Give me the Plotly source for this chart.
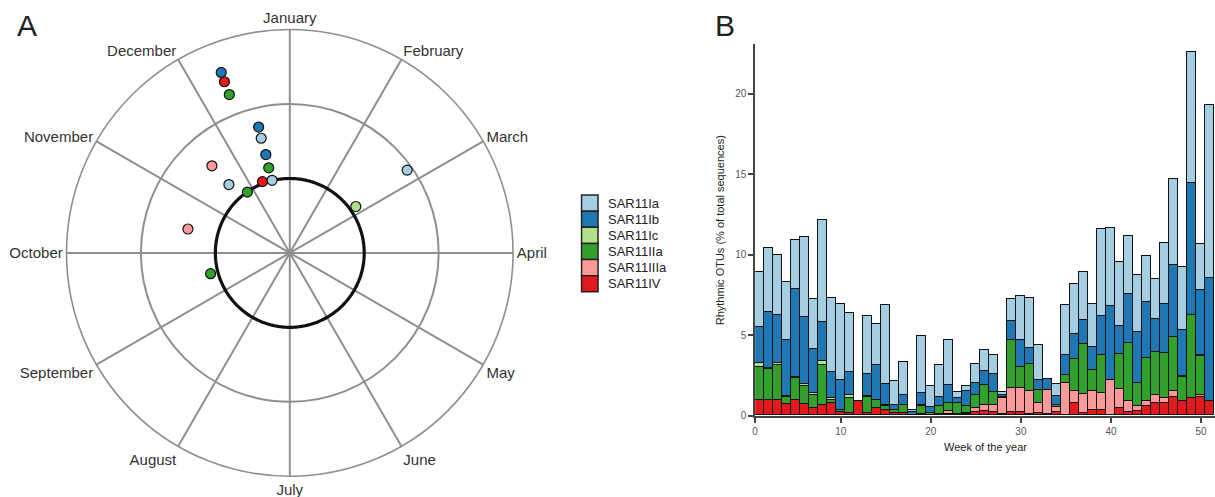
import numpy as np
import plotly.graph_objects as go

# ---------------- data ----------------
months = ["January", "February", "March", "April", "May", "June", "July",
          "August", "September", "October", "November", "December"]
month_angles = [0, 30, 60, 90, 120, 150, 180, 210, 240, 270, 300, 330]

clades = ["SAR11Ia", "SAR11Ib", "SAR11Ic", "SAR11IIa", "SAR11IIIa", "SAR11IV"]
colors = {"SAR11Ia": "#a6cee3", "SAR11Ib": "#1f78b4", "SAR11Ic": "#b2df8a",
          "SAR11IIa": "#33a02c", "SAR11IIIa": "#fb9a99", "SAR11IV": "#e31a1c"}

# Panel A: phase (degrees, Jan = 0, clockwise) and amplitude of rhythmic OTUs
pt_clade = ["SAR11Ib", "SAR11IV", "SAR11IIa", "SAR11Ib", "SAR11Ia", "SAR11Ib",
            "SAR11IIa", "SAR11IV", "SAR11Ia", "SAR11IIIa", "SAR11Ia", "SAR11IIa",
            "SAR11IIIa", "SAR11IIa", "SAR11Ia", "SAR11Ic"]
pt_phase = [339.2, 339.1, 339.1, 346.1, 346.0, 346.3, 346.1, 339.0, 346.3,
            318.2, 318.3, 325.1, 283.2, 255.3, 54.8, 54.9]
pt_amp = [1.297, 1.231, 1.139, 0.871, 0.794, 0.680, 0.589, 0.513, 0.502,
          0.785, 0.615, 0.498, 0.703, 0.550, 0.965, 0.542]
threshold = 0.5

# Panel B: weekly stacked abundance (% of total sequences), weeks 1..51
weeks = list(range(1, 52))
sar11_IV = [0.94, 0.98, 0.98, 0.74, 0.94, 0.74, 0.47, 0.67, 0.78, 0.20,
            0.16, 0.88, 0.16, 0.47, 0.33, 0.16, 0.16, 0.02, 0.10, 0.05,
            0.06, 0.12, 0.05, 0.10, 0.20, 0.27, 0.20, 0.06, 0.20, 0.20,
            0.10, 0.16, 0.06, 0.20, 0.05, 0.78, 0.16, 0.37, 0.37, 0.05,
            0.47, 0.20, 0.27, 0.57, 0.78, 0.78, 1.12, 0.90, 1.08, 1.12, 0.88]
sar11_IIIa = [0, 0, 0, 0, 0, 0, 0, 0, 0, 0.03,
              0, 0, 0, 0, 0, 0, 0, 0, 0, 0,
              0, 0.15, 0.05, 0.06, 0.25, 0.40, 0.43, 1.04, 1.50, 1.50,
              1.39, 0.62, 1.54, 0.31, 1.95, 0.75, 1.17, 1.12, 1.02, 2.16,
              1.19, 0.68, 0.30, 0.31, 0.51, 0.30, 0.41, 0.02, 0, 0.17, 0]
sar11_IIa = [2.09, 1.89, 2.17, 0.39, 1.38, 1.11, 0.83, 2.46, 0.20, 0.10,
             0.92, 0, 0.98, 0.46, 0.25, 0.21, 0.46, 0.03, 0.50, 0.11,
             0.51, 0.48, 0.68, 0.41, 0.85, 1.23, 0.80, 0, 2.96, 1.29,
             1.70, 0.82, 0, 0.16, 0.52, 1.97, 3.13, 1.33, 2.39, 0,
             2.18, 3.62, 1.43, 2.66, 2.66, 2.82, 3.34, 1.49, 5.16, 2.41, 0]
sar11_Ic = [0.20, 0.05, 0.08, 0.10, 0.05, 0.10, 0.09, 0.24, 0.10, 0,
            0.17, 0, 0.05, 0.05, 0.05, 0, 0.05, 0, 0.03, 0,
            0, 0.03, 0, 0, 0, 0, 0, 0.02, 0, 0,
            0, 0, 0, 0, 0, 0, 0, 0, 0, 0,
            0, 0, 0, 0, 0, 0, 0, 0.05, 0, 0.05, 0]
sar11_Ib = [2.25, 3.52, 3.01, 3.43, 5.46, 4.14, 2.76, 2.42, 1.60, 1.88,
            1.43, 0, 1.37, 2.15, 1.31, 0.30, 0.58, 0.15, 0.76, 0.37,
            0.55, 1.12, 0.30, 0.92, 0.70, 0.88, 1.15, 0.16, 1.23, 1.67,
            1.02, 0.61, 0.67, 0.52, 1.26, 1.57, 1.49, 1.43, 2.42, 4.56,
            1.70, 3.03, 3.17, 3.52, 2.04, 3.01, 4.46, 2.82, 8.20, 4.04, 7.67]
sar11_Ia = [3.42, 3.97, 3.72, 3.64, 3.07, 5.01, 3.11, 6.38, 4.62, 4.72,
            3.66, 0, 3.60, 2.53, 4.95, 1.50, 2.08, 0.17, 3.52, 1.27,
            2.01, 2.76, 0.35, 0.31, 1.19, 1.27, 1.20, 0.15, 1.33, 2.76,
            3.11, 2.15, 0, 0.75, 3.07, 3.11, 2.95, 2.70, 5.37, 4.89,
            3.97, 3.62, 3.58, 2.82, 2.46, 3.83, 5.35, 3.94, 8.12, 2.86, 10.75]

week_ticks = [0.5, 10, 20, 30, 40, 50]
week_tick_text = ["0", "10", "20", "30", "40", "50"]
y_ticks = [0, 5, 10, 15, 20]

# ---------------- figure ----------------
W, H = 1215, 497
FONT = "Liberation Sans, Arial, sans-serif"
GRID = "#8f8f8f"
fig = go.Figure()

# Panel A
circle_theta = np.linspace(0, 360, 361)
fig.add_trace(go.Scatterpolar(
    r=[threshold] * len(circle_theta), theta=circle_theta, mode="lines",
    line=dict(color="#111111", width=3.2), showlegend=False, hoverinfo="skip",
    subplot="polar"))
fig.add_trace(go.Scatterpolar(
    r=pt_amp, theta=pt_phase, mode="markers",
    marker=dict(size=10, color=[colors[c] for c in pt_clade],
                line=dict(color="#111111", width=1.2)),
    text=pt_clade, showlegend=False, subplot="polar"))

# Panel B: stacked bars (bottom to top)
stack = [("SAR11IV", sar11_IV), ("SAR11IIIa", sar11_IIIa), ("SAR11IIa", sar11_IIa),
         ("SAR11Ic", sar11_Ic), ("SAR11Ib", sar11_Ib), ("SAR11Ia", sar11_Ia)]
for name, vals in stack:
    fig.add_trace(go.Bar(
        x=weeks, y=vals, name=name, width=1.0, showlegend=False,
        marker=dict(color=colors[name], line=dict(color="#111111", width=1.6)),
        xaxis="x", yaxis="y"))

# Legend (drawn as a column of swatches with labels)
leg_x0, leg_y0, box_w, box_h = 580, 197.5, 16.5, 16.3
shapes, annotations = [], []
for i, c in enumerate(clades):
    top = leg_y0 + i * box_h
    shapes.append(dict(type="rect", xref="paper", yref="paper",
                       x0=leg_x0 / W, x1=(leg_x0 + box_w) / W,
                       y0=(H - top - box_h) / H, y1=(H - top) / H,
                       fillcolor=colors[c], line=dict(color="#222222", width=1.5)))
    annotations.append(dict(text=c, x=(leg_x0 + box_w + 8) / W,
                            y=(H - top - box_h / 2) / H,
                            xref="paper", yref="paper", xanchor="left",
                            yanchor="middle", showarrow=False,
                            font=dict(size=13, color="#222222", family=FONT)))

annotations += [
    dict(text="A", x=12 / W, y=(H - 26) / H, xref="paper", yref="paper",
         xanchor="left", yanchor="middle", showarrow=False,
         font=dict(size=30, color="#222222", family=FONT)),
    dict(text="B", x=712 / W, y=(H - 26) / H, xref="paper", yref="paper",
         xanchor="left", yanchor="middle", showarrow=False,
         font=dict(size=30, color="#222222", family=FONT)),
    dict(text="Week of the year", x=(754 + W) / 2 / W, y=(H - 452) / H,
         xref="paper", yref="paper", xanchor="center", yanchor="middle",
         showarrow=False, font=dict(size=11, color="#222222", family=FONT)),
]

cx, cy, R = 287.5, 256, 226
fig.update_layout(
    width=W, height=H,
    margin=dict(l=0, r=0, t=0, b=0),
    paper_bgcolor="white", plot_bgcolor="white",
    font=dict(family=FONT, color="#333333"),
    barmode="stack", bargap=0,
    showlegend=False,
    polar=dict(
        domain=dict(x=[(cx - R) / W, (cx + R) / W],
                    y=[(H - cy - R) / H, (H - cy + R) / H]),
        bgcolor="white",
        angularaxis=dict(
            rotation=90, direction="clockwise",
            tickmode="array", tickvals=month_angles, ticktext=months,
            ticks="", showline=True, linecolor=GRID, linewidth=1.6,
            showgrid=True, gridcolor=GRID, gridwidth=1.6,
            tickfont=dict(size=15, color="#333333", family=FONT)),
        radialaxis=dict(
            range=[0, 1.5], tickmode="array", tickvals=[1.0],
            showticklabels=False, ticks="", showline=False,
            showgrid=True, gridcolor=GRID, gridwidth=1.6),
    ),
    xaxis=dict(
        domain=[754 / W, 1.0], range=[0.5, 51.55], anchor="y",
        tickmode="array", tickvals=week_ticks, ticktext=week_tick_text,
        ticks="outside", ticklen=5, tickwidth=1.5, tickcolor="#444444",
        showline=True, linecolor="#444444", linewidth=1.5,
        showgrid=False, zeroline=False,
        tickfont=dict(size=10, color="#555555")),
    yaxis=dict(
        domain=[(H - 421) / H, (H - 45) / H], range=[0, 23.07], anchor="x",
        tickmode="array", tickvals=y_ticks,
        ticks="outside", ticklen=5, tickwidth=1.5, tickcolor="#444444",
        showline=True, linecolor="#444444", linewidth=1.5,
        showgrid=False, zeroline=False,
        tickfont=dict(size=10, color="#555555"),
        title=dict(text="Rhythmic OTUs (% of total sequences)",
                   font=dict(size=11, color="#222222"), standoff=8)),
    shapes=shapes,
    annotations=annotations,
)

fig.write_html("out.html")
